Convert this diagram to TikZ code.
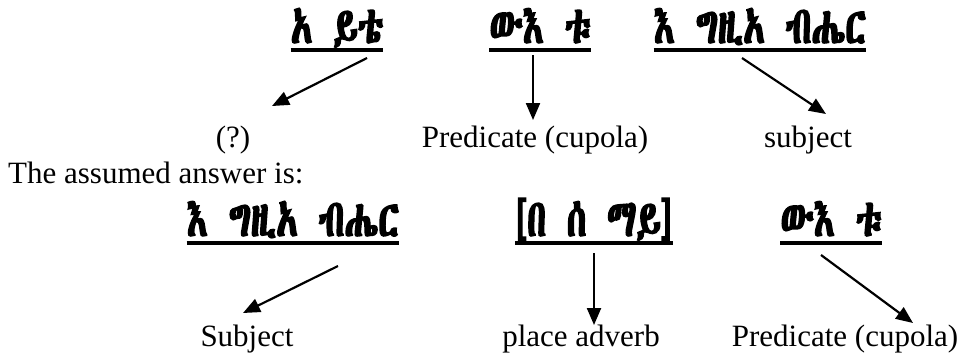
\documentclass[tikz,border=0pt]{standalone}
\usepackage{fontspec}
\setmainfont{Liberation Serif}
\IfFontExistsTF{Abyssinica SIL}{\newfontfamily\geez{Abyssinica SIL}[FakeStretch=0.68,AutoFakeBold=3,WordSpace=1.3]}{%
  \IfFontExistsTF{FreeSerif}{\newfontfamily\geez{FreeSerif}[FakeStretch=0.68,AutoFakeBold=3,WordSpace=1.3]}{%
    \IfFontExistsTF{FreeSans}{\newfontfamily\geez{FreeSans}[FakeStretch=0.68,AutoFakeBold=3,WordSpace=1.3]}{%
      \newfontfamily\geez{DejaVu Sans}}}}
\usetikzlibrary{arrows.meta}
\tikzset{
  geeznode/.style={inner sep=0pt, anchor=base, font=\geez\bfseries\fontsize{52}{56}\selectfont},
  lbl/.style={inner sep=0pt, anchor=base, font=\fontsize{31}{36}\selectfont},
  uline/.style={line width=4.5pt},
  arr/.style={line width=2.2pt, -{Triangle[length=17pt,width=14pt]}}
}
\begin{document}
\begin{tikzpicture}[x=1pt,y=1pt]
\useasboundingbox (0,0) rectangle (965,-357);
% row 1 words
\node[geeznode] (w1) at (337,-43) {አ ይቴ};
\node[geeznode] (w2) at (540,-43) {ውእ ቱ};
\node[geeznode] (w3) at (760,-43) {እ ግዚአ ብሔር};
\foreach \n in {w1,w2,w3}{\draw[uline] ([yshift=-7pt]\n.base west) -- ([yshift=-7pt]\n.base east);}
% row 1 labels
\node[lbl] (l1) at (233,-147) {(?)};
\node[lbl] (l2) at (535,-147) {Predicate (cupola)};
\node[lbl] (l3) at (808,-147) {subject};
% row 1 arrows
\coordinate (s1) at (367,-58); \coordinate (t1) at (272,-106);
\coordinate (s2) at (533,-55); \coordinate (t2) at (533,-120);
\coordinate (s3) at (742,-58); \coordinate (t3) at (826,-114);
\draw[arr] (s1) -- (t1);
\draw[arr] (s2) -- (t2);
\draw[arr] (s3) -- (t3);
% middle line
\node[lbl, anchor=base west] (mid) at (8,-183) {The assumed answer is:};
% row 2 words
\node[geeznode] (v1) at (293,-236) {እ ግዚአ ብሔር};
\node[geeznode] (v2) at (594,-236) {[በ ሰ ማይ]};
\node[geeznode] (v3) at (831,-236) {ውእ ቱ};
\foreach \n in {v1,v2,v3}{\draw[uline] ([yshift=-7pt]\n.base west) -- ([yshift=-7pt]\n.base east);}
% row 2 labels
\node[lbl] (m1) at (247,-346) {Subject};
\node[lbl] (m2) at (581,-346) {place adverb};
\node[lbl] (m3) at (845,-346) {Predicate (cupola)};
% row 2 arrows
\coordinate (s4) at (338,-266); \coordinate (t4) at (243,-313);
\coordinate (s5) at (594,-253); \coordinate (t5) at (594,-325);
\coordinate (s6) at (821,-255); \coordinate (t6) at (913,-323);
\draw[arr] (s4) -- (t4);
\draw[arr] (s5) -- (t5);
\draw[arr] (s6) -- (t6);
\end{tikzpicture}
\end{document}
